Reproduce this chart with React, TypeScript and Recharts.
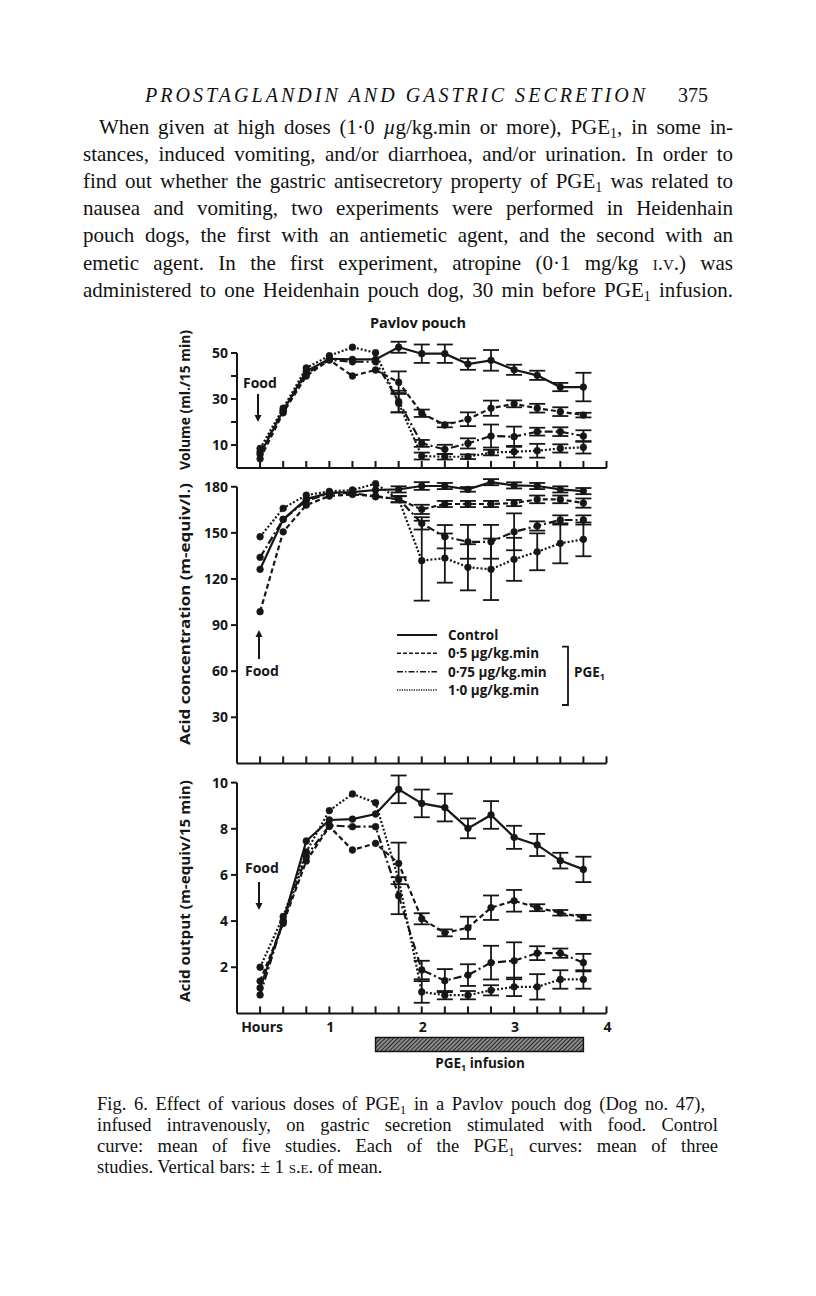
import React from 'react';
import { LineChart, Line, XAxis, YAxis, ErrorBar, ReferenceLine, ReferenceArea } from 'recharts';

// sampling times (h after food)
const hours = [0.25, 0.5, 0.75, 1, 1.25, 1.5, 1.75, 2, 2.25, 2.5, 2.75, 3, 3.25, 3.5, 3.75];
const hourTicks = [0.25, 0.5, 0.75, 1, 1.25, 1.5, 1.75, 2, 2.25, 2.5, 2.75, 3, 3.25, 3.5, 3.75, 4];
const labelledHours = [0.25, 1, 2, 3, 4];
const hourLabels = ['Hours', '1', '2', '3', '4'];
const infusionSpan = [1.5, 3.75];

// Volume (ml./15 min)
const volControl = [6, 25, 42, 47.5, 47.2, 47.2, 52.5, 49.7, 49.7, 45.2, 46.8, 42.7, 40.3, 35.2, 35.2];
const volControlSe = [0, 0, 0, 0, 0, 0, 2.4, 4, 4, 2.5, 4.5, 2.2, 2, 1.8, 6.2];
const vol05 = [4, 24, 40, 47, 40, 42.6, 37.3, 23.8, 18.7, 21.2, 26, 27.9, 26, 24.5, 23];
const vol05Se = [0, 0, 0, 0, 0, 0, 4.7, 1.6, 1, 3, 3.3, 1.5, 1.9, 1.9, 1];
const vol075 = [7, 25, 41, 47, 46.2, 46.2, 28.9, 10.7, 8.1, 10.7, 13.9, 13.6, 15.8, 15.8, 13.9];
const vol075Se = [0, 0, 0, 0, 0, 0, 4.7, 1.5, 2, 2.2, 5, 4.4, 1.7, 1.9, 2.5];
const vol10 = [8.5, 26, 43.5, 48.8, 52.5, 50.1, 28.2, 5.2, 4.9, 4.9, 6.7, 7.1, 7.5, 8.5, 9];
const vol10Se = [0, 0, 0, 0, 0, 0, 4, 1.5, 1.2, 1, 1.2, 2.5, 3, 1.8, 2.7];

// Acid concentration (m-equiv/l.)
const concControl = [126.3, 158.8, 172, 176, 176.5, 177.9, 178.3, 180.5, 180.5, 178.3, 183, 180.9, 180.5, 178.3, 177.2];
const concControlSe = [0, 0, 0, 0, 0, 0, 2, 2.5, 2, 1.5, 2, 2, 2, 2, 2];
const conc05 = [98.7, 150.7, 168.1, 174, 175, 174, 171.8, 165.3, 168.8, 168.8, 168.8, 169.4, 171.8, 171.8, 169.4];
const conc05Se = [0, 0, 0, 0, 0, 0, 2, 3, 2, 2, 2, 2, 2.5, 2.5, 3];
const conc075 = [134.1, 158.8, 171, 175.5, 176, 173.5, 172, 156.2, 147.5, 144.2, 144.2, 150.7, 154.5, 158.4, 158.4];
const conc075Se = [0, 0, 0, 0, 0, 0, 2, 4, 7.6, 11, 11, 12, 3, 3, 3];
const conc10 = [147.5, 166, 174.6, 177, 177.9, 182, 172, 131.9, 133.6, 127.6, 126.3, 132.8, 137.7, 143.2, 145.8];
const conc10Se = [0, 0, 0, 0, 0, 0, 0, 26, 16, 15, 20, 14, 12, 13, 11];

// Acid output (m-equiv/15 min)
const outControl = [1.1, 4.0, 7.47, 8.38, 8.42, 8.64, 9.71, 9.1, 8.92, 8.02, 8.6, 7.63, 7.3, 6.62, 6.24];
const outControlSe = [0, 0, 0, 0, 0, 0, 0.6, 0.6, 0.6, 0.43, 0.6, 0.5, 0.48, 0.34, 0.55];
const out05 = [1.4, 3.9, 6.6, 8.1, 7.08, 7.37, 6.5, 4.1, 3.49, 3.71, 4.58, 4.88, 4.58, 4.36, 4.15];
const out05Se = [0, 0, 0, 0, 0, 0, 0.9, 0.24, 0.15, 0.48, 0.53, 0.47, 0.15, 0.12, 0.12];
const out075 = [0.8, 4.0, 6.8, 8.15, 8.09, 8.09, 5.1, 1.88, 1.42, 1.66, 2.2, 2.28, 2.61, 2.61, 2.2];
const out075Se = [0, 0, 0, 0, 0, 0, 0.8, 0.4, 0.5, 0.47, 0.73, 0.8, 0.3, 0.2, 0.38];
const out10 = [2.0, 4.2, 7.0, 8.79, 9.51, 9.13, 5.8, 0.93, 0.79, 0.79, 1.0, 1.15, 1.15, 1.47, 1.47];
const out10Se = [0, 0, 0, 0, 0, 0, 0, 0.47, 0.18, 0.18, 0.22, 0.4, 0.55, 0.4, 0.4];

const legendNames = ['Control', '0·5 µg/kg.min', '0·75 µg/kg.min', '1·0 µg/kg.min'];

const INK = '#161616';
const SANS = '"Open Sans", "DejaVu Sans", sans-serif';
const SERIF = '"Liberation Serif", "DejaVu Serif", serif';
const dashes = [undefined, '5 3', '8 3 2 3', '2 2'];

const rows = (vals: number[], se: number[]) =>
  hours.map((t, i) => ({ t, v: vals[i], e: se[i] || null }));

const xTick = (withLabels: boolean) => (p: any) => {
  const i = labelledHours.indexOf(p.payload.value);
  return (
    <g>
      <line x1={p.x} x2={p.x} y1={p.y} y2={p.y - 7} stroke={INK} strokeWidth={2} />
      {withLabels && i >= 0 && (
        <text x={p.x + (i === 0 ? 2 : 1)} y={p.y + 19} textAnchor="middle" fontFamily={SANS} fontWeight={700} fontSize={14} fill={INK}>
          {hourLabels[i]}
        </text>
      )}
    </g>
  );
};

const yTick = (labelled: number[]) => (p: any) => (
  <g>
    <line x1={p.x} x2={p.x - 6} y1={p.y} y2={p.y} stroke={INK} strokeWidth={2} />
    {labelled.includes(p.payload.value) && (
      <text x={p.x - 9} y={p.y} dy={5} textAnchor="end" fontFamily={SANS} fontWeight={700} fontSize={14} fill={INK}>
        {p.payload.value}
      </text>
    )}
  </g>
);

type PanelProps = {
  top: number;
  height: number;
  marginTop: number;
  xAxisHeight: number;
  domain: [number, number];
  yTicks: number[];
  yLabelled: number[];
  axisTop: number;
  series: { values: number[]; se: number[] }[];
  xLabels: boolean;
  children?: React.ReactNode;
};

const Panel = ({ top, height, marginTop, xAxisHeight, domain, yTicks, yLabelled, axisTop, series, xLabels, children }: PanelProps) => (
  <div style={{ position: 'absolute', left: 0, top }}>
    <LineChart width={816} height={height} margin={{ top: marginTop, right: 209.5, bottom: 0, left: 177 }}>
      <XAxis
        type="number"
        dataKey="t"
        domain={[0, 4]}
        allowDataOverflow
        ticks={hourTicks}
        interval={0}
        tickSize={0}
        tickMargin={0}
        tickLine={false}
        axisLine={{ stroke: INK, strokeWidth: 2 }}
        height={xAxisHeight}
        tick={xTick(xLabels)}
      />
      <YAxis
        type="number"
        domain={domain}
        allowDataOverflow
        ticks={yTicks}
        interval={0}
        tickSize={0}
        tickMargin={0}
        tickLine={false}
        axisLine={false}
        width={60}
        tick={yTick(yLabelled)}
      />
      <ReferenceLine segment={[{ x: 0, y: 0 }, { x: 0, y: axisTop }]} stroke={INK} strokeWidth={2} />
      {children}
      {series.map((s, k) => (
        <Line
          key={k}
          data={rows(s.values, s.se)}
          dataKey="v"
          type="linear"
          stroke={INK}
          strokeWidth={2.2}
          strokeDasharray={dashes[k]}
          dot={{ r: 3.4, fill: INK, stroke: INK, strokeWidth: 0.5, strokeDasharray: '0' }}
          isAnimationActive={false}
        >
          <ErrorBar dataKey="e" direction="y" width={8} stroke={INK} strokeWidth={1.8} />
        </Line>
      ))}
    </LineChart>
  </div>
);

const Sub = ({ children }: { children: React.ReactNode }) => (
  <sub style={{ fontSize: '0.66em', verticalAlign: '-0.3em', lineHeight: 0 }}>{children}</sub>
);

const paraLines: React.ReactNode[] = [
  <>When given at high doses (1·0 <i>µ</i>g/kg.min or more), PGE<Sub>1</Sub>, in some in-</>,
  <>stances, induced vomiting, and/or diarrhoea, and/or urination. In order to</>,
  <>find out whether the gastric antisecretory property of PGE<Sub>1</Sub> was related to</>,
  <>nausea and vomiting, two experiments were performed in Heidenhain</>,
  <>pouch dogs, the first with an antiemetic agent, and the second with an</>,
  <>emetic agent. In the first experiment, atropine (0·1 mg/kg <span style={{ fontVariant: 'small-caps' }}>i.v.</span>) was</>,
  <>administered to one Heidenhain pouch dog, 30 min before PGE<Sub>1</Sub> infusion.</>,
];

const captionLines: React.ReactNode[] = [
  <>Fig. 6. Effect of various doses of PGE<Sub>1</Sub> in a Pavlov pouch dog (Dog no. 47),</>,
  <>infused intravenously, on gastric secretion stimulated with food. Control</>,
  <>curve: mean of five studies. Each of the PGE<Sub>1</Sub> curves: mean of three</>,
  <>studies. Vertical bars: ± 1 <span style={{ fontVariant: 'small-caps' }}>s.e.</span> of mean.</>,
];

const Arrow = ({ x, y1, y2 }: { x: number; y1: number; y2: number }) => {
  const dir = y2 > y1 ? 1 : -1;
  return (
    <g>
      <line x1={x} x2={x} y1={y1} y2={y2 - dir * 5} stroke={INK} strokeWidth={2} />
      <polygon points={`${x - 3.5},${y2 - dir * 7} ${x + 3.5},${y2 - dir * 7} ${x},${y2}`} fill={INK} />
    </g>
  );
};

const figText = { fontFamily: SANS, fontWeight: 700, fill: INK } as const;

export default function App() {
  return (
    <div style={{ position: 'absolute', left: 0, top: 0, width: 816, height: 1296, background: '#fff', color: '#111', overflow: 'hidden' }}>
      <svg width={0} height={0} style={{ position: 'absolute' }}>
        <defs>
          <pattern id="hatch" width="3" height="3" patternUnits="userSpaceOnUse" patternTransform="rotate(45)">
            <rect width="3" height="3" fill="#8a8a8a" />
            <line x1="0" y1="0" x2="0" y2="3" stroke="#222" strokeWidth="1.9" />
          </pattern>
        </defs>
      </svg>

      {/* page text */}
      <svg width={816} height={120} style={{ position: 'absolute', left: 0, top: 0 }}>
        <text x={395} y={102} textAnchor="middle" fontFamily={SERIF} fontStyle="italic" fontSize={20} textLength={500} lengthAdjust="spacing" fill="#111">
          PROSTAGLANDIN AND GASTRIC SECRETION
        </text>
        <text x={693} y={102} textAnchor="middle" fontFamily={SERIF} fontSize={20} fill="#111">375</text>
      </svg>
      {paraLines.map((l, i) => (
        <div
          key={i}
          style={{
            position: 'absolute',
            left: i === 0 ? 99 : 83,
            top: [130, 157, 184, 211, 238, 266, 293][i] - 15.6,
            width: i === 0 ? 634 : 650,
            fontFamily: SERIF,
            fontSize: 21,
            lineHeight: '27px',
            textAlign: 'justify',
            textAlignLast: 'justify',
          }}
        >
          {l}
        </div>
      ))}
      {captionLines.map((l, i) => (
        <div
          key={i}
          style={{
            position: 'absolute',
            left: 97,
            top: [1106, 1127, 1148, 1169][i] - 12.2,
            width: [608, 621, 621, 400][i],
            fontFamily: SERIF,
            fontSize: 18.5,
            lineHeight: '21px',
            textAlign: 'justify',
            textAlignLast: i === 3 ? 'left' : 'justify',
          }}
        >
          {l}
        </div>
      ))}

      <Panel
        top={330}
        height={140}
        marginTop={9.2}
        xAxisHeight={2}
        domain={[0, 56]}
        yTicks={[10, 20, 30, 40, 50]}
        yLabelled={[10, 30, 50]}
        axisTop={50}
        xLabels={false}
        series={[
          { values: volControl, se: volControlSe },
          { values: vol05, se: vol05Se },
          { values: vol075, se: vol075Se },
          { values: vol10, se: vol10Se },
        ]}
      />
      <Panel
        top={470}
        height={295.4}
        marginTop={9.1}
        xAxisHeight={2}
        domain={[0, 185]}
        yTicks={[30, 60, 90, 120, 150, 180]}
        yLabelled={[30, 60, 90, 120, 150, 180]}
        axisTop={180}
        xLabels={false}
        series={[
          { values: concControl, se: concControlSe },
          { values: conc05, se: conc05Se },
          { values: conc075, se: conc075Se },
          { values: conc10, se: conc10Se },
        ]}
      />
      <Panel
        top={765}
        height={298.4}
        marginTop={6.1}
        xAxisHeight={50}
        domain={[0, 10.5]}
        yTicks={[2, 4, 6, 8, 10]}
        yLabelled={[2, 4, 6, 8, 10]}
        axisTop={10}
        xLabels
        series={[
          { values: outControl, se: outControlSe },
          { values: out05, se: out05Se },
          { values: out075, se: out075Se },
          { values: out10, se: out10Se },
        ]}
      >
        <ReferenceArea
          x1={infusionSpan[0]}
          x2={infusionSpan[1]}
          y1={-1.05}
          y2={-1.65}
          ifOverflow="visible"
          fill="url(#hatch)"
          fillOpacity={1}
          stroke={INK}
          strokeWidth={1.5}
        />
      </Panel>

      {/* figure annotations */}
      <svg width={816} height={1296} style={{ position: 'absolute', left: 0, top: 0, pointerEvents: 'none' }}>
        <text x={418} y={328} textAnchor="middle" fontSize={14.5} {...figText}>Pavlov pouch</text>

        <text transform="translate(190,400) rotate(-90)" textAnchor="middle" fontSize={14} textLength={140} lengthAdjust="spacingAndGlyphs" {...figText}>
          Volume (ml./15 min)
        </text>
        <text transform="translate(190,614) rotate(-90)" textAnchor="middle" fontSize={14} textLength={262} lengthAdjust="spacingAndGlyphs" {...figText}>
          Acid concentration (m-equiv/l.)
        </text>
        <text transform="translate(190,891) rotate(-90)" textAnchor="middle" fontSize={14} textLength={222} lengthAdjust="spacingAndGlyphs" {...figText}>
          Acid output (m-equiv/15 min)
        </text>

        <text x={243} y={388} fontSize={14} {...figText}>Food</text>
        <Arrow x={258} y1={394} y2={422} />
        <Arrow x={259} y1={659} y2={630} />
        <text x={245} y={676} fontSize={14} {...figText}>Food</text>
        <text x={245} y={873} fontSize={14} {...figText}>Food</text>
        <Arrow x={259} y1={882} y2={910} />

        {legendNames.map((n, i) => {
          const y = [635, 653.3, 671.7, 690][i];
          return (
            <g key={n}>
              <line x1={397} x2={437} y1={y} y2={y} stroke={INK} strokeWidth={i === 0 ? 1.8 : 1.6} strokeDasharray={i === 0 ? undefined : ['4 2', '6 2 1.5 2', '1.2 1.2'][i - 1]} />
              <text x={448} y={y + 5} fontSize={13.5} {...figText}>{n}</text>
            </g>
          );
        })}
        <path d="M562 646.7 H568 V705 H562" fill="none" stroke={INK} strokeWidth={1.8} />
        <text x={574} y={677} fontSize={13.5} {...figText}>
          PGE<tspan fontSize={9} dy={3}>1</tspan>
        </text>

        <text x={480} y={1068} textAnchor="middle" fontSize={13.5} {...figText}>
          PGE<tspan fontSize={9} dy={3}>1</tspan>
          <tspan dy={-3}> infusion</tspan>
        </text>
      </svg>
    </div>
  );
}
